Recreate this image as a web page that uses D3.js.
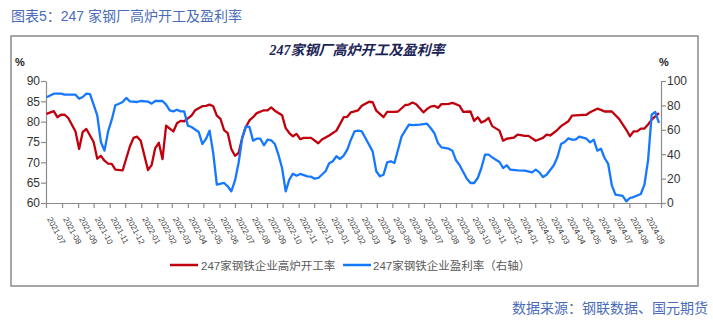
<!DOCTYPE html>
<html><head><meta charset="utf-8">
<script src="https://cdn.jsdelivr.net/npm/d3@7"></script>
<style>body{margin:0;background:#fff}svg{display:block}</style>
</head><body>
<svg id="c" width="713" height="322"></svg>
<script>
// Weekly data, week index counted from 2021-07-02 (Friday releases)
const startDate = new Date(2021, 6, 2);
const monthLabels = ["2021-07","2021-08","2021-09","2021-10","2021-11","2021-12","2022-01","2022-02","2022-03","2022-04","2022-05","2022-06","2022-07","2022-08","2022-09","2022-10","2022-11","2022-12","2023-01","2023-02","2023-03","2023-04","2023-05","2023-06","2023-07","2023-08","2023-09","2023-10","2023-11","2023-12","2024-01","2024-02","2024-03","2024-04","2024-05","2024-06","2024-07","2024-08","2024-09"];
const leftTicks = [60,65,70,75,80,85,90];
const rightTicks = [0,20,40,60,80,100];
const seriesNames = ["247家钢铁企业高炉开工率","247家钢铁企业盈利率（右轴）"];

const redWeek = [0,2,3,4,5,6,8,9,10,11,13,14,15,16,17,18,19,21,23,24,25,26,28,29,30,31,32,33,35,36,37,38,40,41,43,44,45,46,47,48,49,50,51,52,53,54,55,56,57,58,60,61,62,63,65,66,67,68,69,70,71,73,75,76,77,78,80,81,82,83,84,86,87,88,89,90,91,92,93,94,96,97,99,100,101,102,104,105,106,107,108,109,110,111,112,113,114,115,117,118,119,120,121,122,123,125,126,127,129,130,132,133,135,137,138,139,141,142,144,145,147,149,150,152,153,154,156,158,160,161,162,163,164,165,166,167,168,169];
const redRate = [81.9,82.6,81.1,81.7,81.7,80.9,77.6,73.3,77.5,78.2,75.0,70.9,71.6,70.4,69.7,69.6,68.2,68.0,73.9,76.0,76.3,75.3,68.1,69.3,73.5,74.8,70.8,79.0,77.6,79.6,80.2,80.1,81.5,82.8,83.8,83.9,84.2,83.8,81.5,80.7,77.9,77.2,73.3,71.6,72.3,76.0,78.7,80.3,81.1,82.1,82.8,82.8,83.5,82.7,81.6,78.4,77.2,76.4,77.0,75.7,76.0,76.0,74.7,75.6,76.1,76.6,77.8,79.4,81.1,81.2,82.3,82.8,83.9,84.4,84.9,84.8,82.7,81.9,81.1,82.4,82.4,82.5,84.1,84.2,84.7,84.3,82.3,83.1,83.7,83.9,83.4,84.3,84.3,84.4,84.6,84.3,83.9,82.4,82.5,80.2,81.1,79.8,80.2,80.9,78.9,77.8,75.3,75.8,76.1,76.8,76.5,76.5,75.3,76.0,76.8,76.6,78.0,78.9,80.1,81.5,81.6,81.7,82.3,83.2,82.9,82.5,82.5,80.7,78.0,76.4,77.6,77.6,78.3,78.3,79.3,80.5,81.3,82.1];

const blueWeek = [0,2,4,5,8,9,10,11,12,13,14,15,16,17,18,19,20,21,22,23,25,26,28,29,30,32,33,34,35,36,37,38,39,40,42,43,44,45,46,47,49,50,51,52,53,54,55,56,57,58,59,60,61,62,63,64,65,66,67,68,69,70,72,73,74,75,77,78,79,80,81,82,83,84,85,86,87,88,90,91,92,93,94,95,96,97,98,100,101,103,105,106,107,108,109,111,112,113,114,116,117,118,119,120,121,122,123,124,125,126,127,128,130,132,134,135,136,137,138,140,141,142,143,144,145,146,147,149,150,151,152,153,154,155,156,157,159,160,161,162,164,165,166,167,168,169];
const blueProfit = [86.6,89.6,89.6,88.8,88.8,85.5,86.9,89.6,89.3,80.6,71.9,50.0,42.9,58.7,68.3,80.1,81.4,82.8,86.1,83.3,82.8,83.6,83.1,81.4,83.6,83.6,80.6,76.0,75.1,76.5,75.1,75.1,63.4,62.3,58.2,48.4,52.5,59.3,41.0,15.0,16.4,13.7,9.6,18.3,32.8,53.3,62.8,62.3,51.1,52.7,52.7,47.3,51.9,51.4,48.4,39.6,28.7,9.6,19.1,24.0,22.4,23.8,21.9,21.6,19.9,20.5,26.0,32.5,34.2,38.3,36.1,38.8,43.7,51.9,58.7,59.3,58.7,53.3,42.3,26.0,21.9,23.2,33.3,34.2,32.8,43.7,54.6,64.2,63.9,64.2,65.0,61.5,57.4,49.2,45.6,44.5,42.9,35.0,31.0,19.9,16.4,16.4,20.5,28.7,39.6,39.6,37.4,35.5,33.6,28.7,30.9,27.3,26.8,26.5,25.1,27.3,25.1,21.3,23.2,30.9,37.7,48.4,50.0,53.0,51.9,51.9,54.4,52.7,49.7,51.9,42.9,44.5,36.9,32.0,14.5,6.8,5.8,1.4,4.1,4.9,7.4,15.0,35.0,72.4,74.6,65.6];

const weekDate = k => d3.timeDay.offset(startDate, 7 * k);
const red = redWeek.map((k, i) => ({d: weekDate(k), v: redRate[i]}));
const blue = blueWeek.map((k, i) => ({d: weekDate(k), v: blueProfit[i]}));

const svg = d3.select("#c");
const W = 713, H = 322;
const L = 46, R = 661, T = 81, B = 203;
const AX = "#8c8c8c";
const NUM = "'Liberation Sans', Arial, sans-serif";
const CJK = "'Noto Sans CJK SC', sans-serif";

svg.append("rect").attr("width", W).attr("height", H).attr("fill", "#fff");

// Outer title
svg.append("text").attr("x", 11).attr("y", 21)
  .attr("font-family", NUM + "," + CJK).attr("font-size", 14).attr("fill", "#4a6cb8")
  .text("图表5：247 家钢厂高炉开工及盈利率");

// Frame
svg.append("rect").attr("x", 11).attr("y", 36).attr("width", 687).attr("height", 250)
  .attr("fill", "none").attr("stroke", "#8a8a8a").attr("stroke-width", 1.5);

// Chart title
svg.append("text").attr("x", 357).attr("y", 55).attr("text-anchor", "middle")
  .attr("font-family", "'Liberation Serif', " + CJK).attr("font-size", 14)
  .attr("font-weight", "bold").attr("font-style", "italic").attr("fill", "#1c2456")
  .text("247家钢厂高炉开工及盈利率");

const x = d3.scaleTime().domain([new Date(2021, 6, 1), new Date(2024, 9, 1)]).range([L, R]);
const yL = d3.scaleLinear().domain([60, 90]).range([B, T]);
const yR = d3.scaleLinear().domain([0, 100]).range([B, T]);

// Left axis
const gL = svg.append("g").attr("transform", `translate(${L},0)`)
  .call(d3.axisLeft(yL).tickValues(leftTicks).tickSize(5).tickSizeOuter(0));
// Right axis
const gR = svg.append("g").attr("transform", `translate(${R},0)`)
  .call(d3.axisRight(yR).tickValues(rightTicks).tickSize(5).tickSizeOuter(0));
[gL, gR].forEach(g => {
  g.select(".domain").attr("stroke", AX).attr("stroke-width", 1.2);
  g.selectAll(".tick line").attr("stroke", AX).attr("stroke-width", 1.2);
  g.selectAll(".tick text").attr("font-family", NUM).attr("font-size", 12).attr("fill", "#333");
});
gL.selectAll(".tick text").attr("x", -6);
gR.selectAll(".tick text").attr("x", 6);

svg.append("text").attr("x", 15).attr("y", 66).attr("font-family", NUM)
  .attr("font-size", 11).attr("font-weight", "bold").attr("fill", "#222").text("%");
svg.append("text").attr("x", 659).attr("y", 66).attr("font-family", NUM)
  .attr("font-size", 11).attr("font-weight", "bold").attr("fill", "#222").text("%");

// Bottom axis
const months = monthLabels.map(s => { const [y, m] = s.split("-").map(Number); return new Date(y, m - 1, 1); });
const gB = svg.append("g").attr("transform", `translate(0,${B})`)
  .call(d3.axisBottom(x).tickValues(months.concat([new Date(2024, 9, 1)])).tickSize(5).tickSizeOuter(0).tickFormat(() => ""));
gB.select(".domain").attr("stroke", AX).attr("stroke-width", 1.2);
gB.selectAll(".tick line").attr("stroke", AX).attr("stroke-width", 1.2);
gB.selectAll(".tick text").remove();

svg.append("g").selectAll("text").data(months).join("text")
  .attr("transform", (d, i) => `translate(${x(d) + 1},${B + 16}) rotate(62)`)
  .attr("font-family", NUM).attr("font-size", 8).attr("fill", "#333")
  .text((d, i) => monthLabels[i]);

// Lines
const lineL = d3.line().x(d => x(d.d)).y(d => yL(d.v));
const lineR = d3.line().x(d => x(d.d)).y(d => yR(d.v));
svg.append("path").datum(red).attr("d", lineL).attr("fill", "none")
  .attr("stroke", "#c0000c").attr("stroke-width", 2.3).attr("stroke-linejoin", "round");
svg.append("path").datum(blue).attr("d", lineR).attr("fill", "none")
  .attr("stroke", "#1677ff").attr("stroke-width", 2.3).attr("stroke-linejoin", "round");

// Legend
const leg = [{c: "#c0000c", x1: 170, x2: 198, tx: 201}, {c: "#1677ff", x1: 343, x2: 371, tx: 373}];
leg.forEach((l, i) => {
  svg.append("line").attr("x1", l.x1).attr("x2", l.x2).attr("y1", 265).attr("y2", 265)
    .attr("stroke", l.c).attr("stroke-width", 2.5);
  svg.append("text").attr("x", l.tx).attr("y", 269.5).attr("font-family", NUM + "," + CJK)
    .attr("font-size", 11.5).attr("fill", "#595959").text(seriesNames[i]);
});

// Source
svg.append("text").attr("x", 708).attr("y", 313).attr("text-anchor", "end")
  .attr("font-family", CJK).attr("font-size", 14).attr("fill", "#4a6cb8")
  .text("数据来源：钢联数据、国元期货");
</script>
</body></html>
